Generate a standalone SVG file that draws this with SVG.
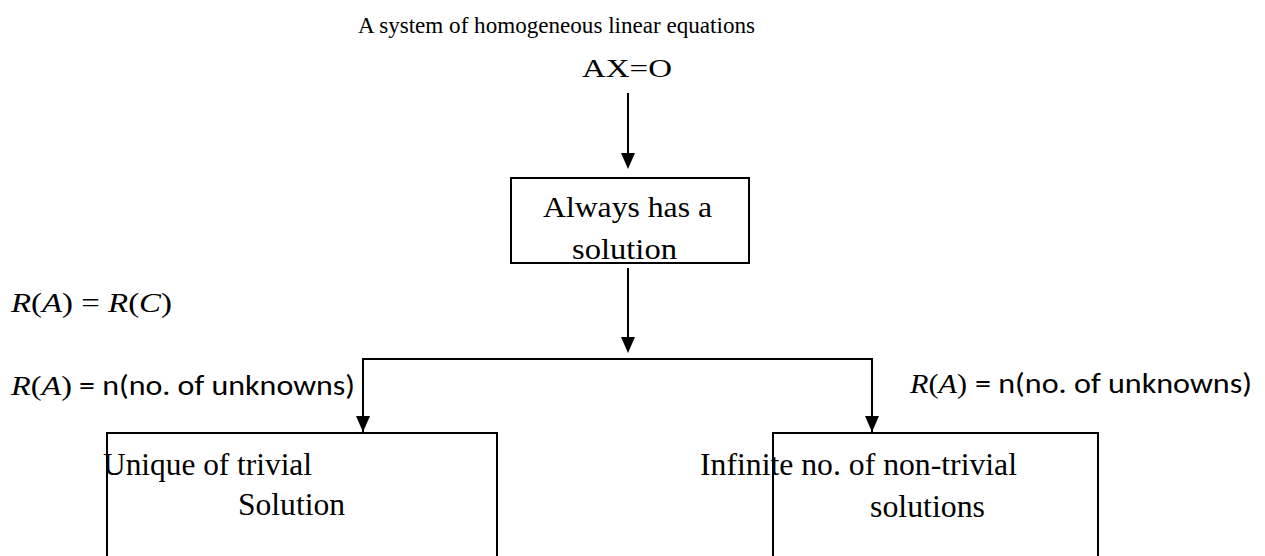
<svg xmlns="http://www.w3.org/2000/svg" width="1265" height="556" viewBox="0 0 1265 556">
<style>
.t{font-family:"Liberation Serif","Times New Roman",serif;fill:#000}
.m{font-family:"Liberation Serif","Times New Roman",serif;font-style:italic;fill:#000}
.s{font-family:Carlito,"Open Sans","Liberation Sans",sans-serif;fill:#000}
.box{fill:none;stroke:#000;stroke-width:2}
.ln{fill:none;stroke:#000;stroke-width:2}
</style>
<rect width="1265" height="556" fill="#fff"/>
<g id="title">
<text class="t" x="358" y="33" font-size="24" textLength="397" lengthAdjust="spacingAndGlyphs">A system of homogeneous linear equations</text>
<text class="t" x="582" y="77" font-size="26" textLength="90" lengthAdjust="spacingAndGlyphs">AX=O</text>
</g>
<g id="connectors">
<line class="ln" x1="628" y1="93" x2="628" y2="153"/>
<path d="M621,153 L635,153 L628,169 Z"/>
<line class="ln" x1="628" y1="268" x2="628" y2="337"/>
<path d="M621,337 L635,337 L628,353 Z"/>
<polyline class="ln" points="363,432 363,359 872,359 872,432"/>
<path d="M356,416 L370,416 L363,432 Z"/>
<path d="M865,416 L879,416 L872,432 Z"/>
</g>
<g id="node-always">
<rect class="box" x="511" y="178" width="238" height="85"/>
<text class="t" x="543" y="217" font-size="30" textLength="169" lengthAdjust="spacingAndGlyphs">Always has a</text>
<text class="t" x="572" y="259" font-size="30" textLength="105" lengthAdjust="spacingAndGlyphs">solution</text>
</g>
<g id="node-unique">
<rect class="box" x="107" y="433" width="390" height="140"/>
<text class="t" x="103" y="475" font-size="31" textLength="209" lengthAdjust="spacingAndGlyphs">Unique of trivial</text>
<text class="t" x="238" y="515" font-size="31" textLength="107" lengthAdjust="spacingAndGlyphs">Solution</text>
</g>
<g id="node-infinite">
<rect class="box" x="773" y="433" width="325" height="140"/>
<text class="t" x="700" y="475" font-size="31" textLength="317" lengthAdjust="spacingAndGlyphs">Infinite no. of non-trivial</text>
<text class="t" x="870" y="517" font-size="31" textLength="115" lengthAdjust="spacingAndGlyphs">solutions</text>
</g>
<g id="label-rank">
<text x="11" y="312" font-size="27" class="t" textLength="161" lengthAdjust="spacingAndGlyphs"><tspan class="m">R</tspan>(<tspan class="m">A</tspan>) = <tspan class="m">R</tspan>(<tspan class="m">C</tspan>)</text>
</g>
<g id="label-left">
<text x="11" y="395" font-size="27" class="t" textLength="61" lengthAdjust="spacingAndGlyphs"><tspan class="m">R</tspan>(<tspan class="m">A</tspan>)</text>
<text class="s" x="79" y="395" font-size="29" textLength="276" lengthAdjust="spacingAndGlyphs">= n(no. of unknowns)</text>
</g>
<g id="label-right">
<text x="910" y="393" font-size="27" class="t" textLength="57" lengthAdjust="spacingAndGlyphs"><tspan class="m">R</tspan>(<tspan class="m">A</tspan>)</text>
<text class="s" x="975" y="393" font-size="29" textLength="277" lengthAdjust="spacingAndGlyphs">= n(no. of unknowns)</text>
</g>
</svg>
